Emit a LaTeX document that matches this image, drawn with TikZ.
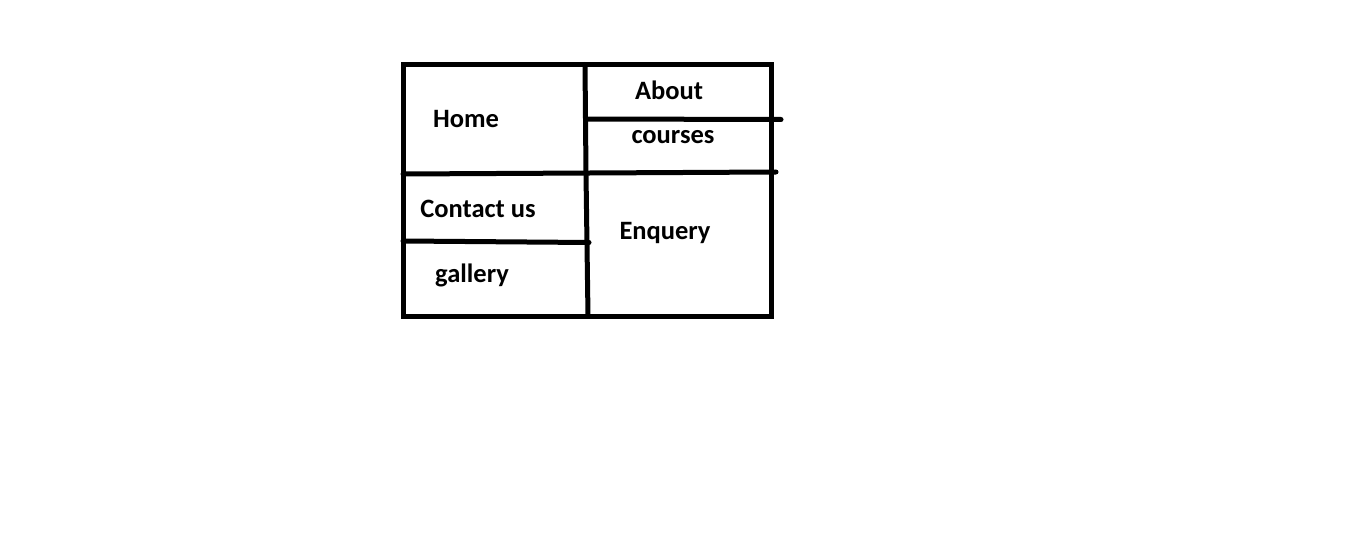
\documentclass[tikz,border=0pt]{standalone}
\usepackage{fontspec}
\setmainfont{Carlito}
\begin{document}
\begin{tikzpicture}[x=1pt,y=-1pt,
  rule/.style={line width=5pt,line cap=round,black},
  label/.style={font=\fontsize{26.5}{30}\selectfont\bfseries,inner sep=0pt,anchor=center}]
\useasboundingbox (0,0) rectangle (1359,556);
% outer frame
\draw[rule,line cap=rect] (403,64.5) rectangle (771,316);
% vertical divider
\draw[rule] (585,64.5) -- (586,174) -- (588,316);
% full-width divider
\draw[rule] (403,174) -- (590,173) -- (776,172);
% About / courses divider
\draw[rule] (586,119) -- (781,119.5);
% Contact us / gallery divider
\draw[rule] (403,241) -- (589,242.5);
% cell labels
\node[label] (home) at (466,119) {Home};
\node[label] (about) at (669,90) {About};
\node[label] (courses) at (673,137) {courses};
\node[label] (contact) at (478,209) {Contact us};
\node[label] (gallery) at (472,275) {gallery};
\node[label] (enquery) at (665,233) {Enquery};
\end{tikzpicture}
\end{document}
